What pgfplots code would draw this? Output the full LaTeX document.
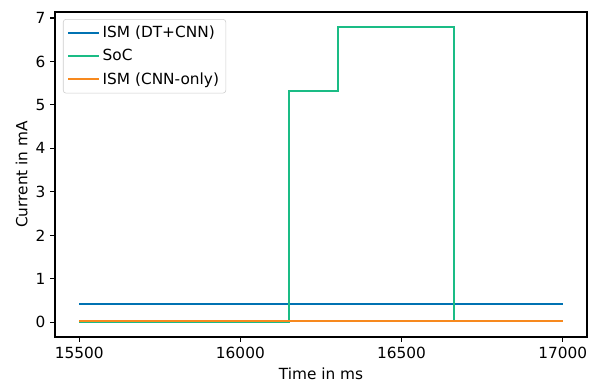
\documentclass[border=0pt]{standalone}
\usepackage{pgfplots}
\pgfplotsset{compat=1.18}
\usepackage{fontspec}
\setmainfont{DejaVu Sans}
\definecolor{cblue}{RGB}{0,114,178}
\definecolor{cgreen}{RGB}{26,188,133}
\definecolor{corange}{RGB}{247,137,30}
\begin{document}
\begin{tikzpicture}
\useasboundingbox (-55*0.7273bp,-47*0.7273bp) rectangle (539*0.7273bp,337*0.7273bp);
\begin{axis}[
  at={(0,0)}, anchor=south west,
  scale only axis,
  width=386.9bp, height=236.4bp,
  xmin=15425, xmax=17075, ymin=-0.34, ymax=7.14,
  xtick={15500,16000,16500,17000},
  ytick={0,1,2,3,4,5,6,7},
  scaled x ticks=false,
  xticklabel style={/pgf/number format/1000 sep={}, /pgf/number format/fixed},
  /pgf/number format/assume math mode=true,
  tick align=outside, major tick length=3.5pt,
  xtick pos=bottom, ytick pos=left,
  tick style={black, line width=0.8pt},
  axis line style={line width=0.8pt},
  tick label style={font=\fontsize{11.2}{13}\selectfont},
  label style={font=\fontsize{11.2}{13}\selectfont},
  xlabel={Time in ms}, ylabel={Current in mA},
  xlabel style={yshift=0pt},
  ylabel style={yshift=-1pt},
  legend cell align=left,
  legend style={font=\fontsize{11.2}{13}\selectfont, draw=black!20, rounded corners=2pt, inner sep=3pt, row sep=3pt, at={(0.015,0.978)}, anchor=north west},
  legend image code/.code={\draw[#1] (0cm,0cm) -- (0.78cm,0cm);},
]
\addplot[cblue, line width=1.6pt, const plot] coordinates {(15500,0.42) (17000,0.42)};
\addlegendentry{ISM (DT+CNN)}
\addplot[cgreen, line width=1.6pt, const plot] coordinates {(15500,0.0) (16151,5.33) (16302,6.80) (16663,0.02) (17000,0.02)};
\addlegendentry{SoC}
\addplot[corange, line width=1.6pt, const plot] coordinates {(15500,0.03) (17000,0.03)};
\addlegendentry{ISM (CNN-only)}
\end{axis}
\end{tikzpicture}
\end{document}
